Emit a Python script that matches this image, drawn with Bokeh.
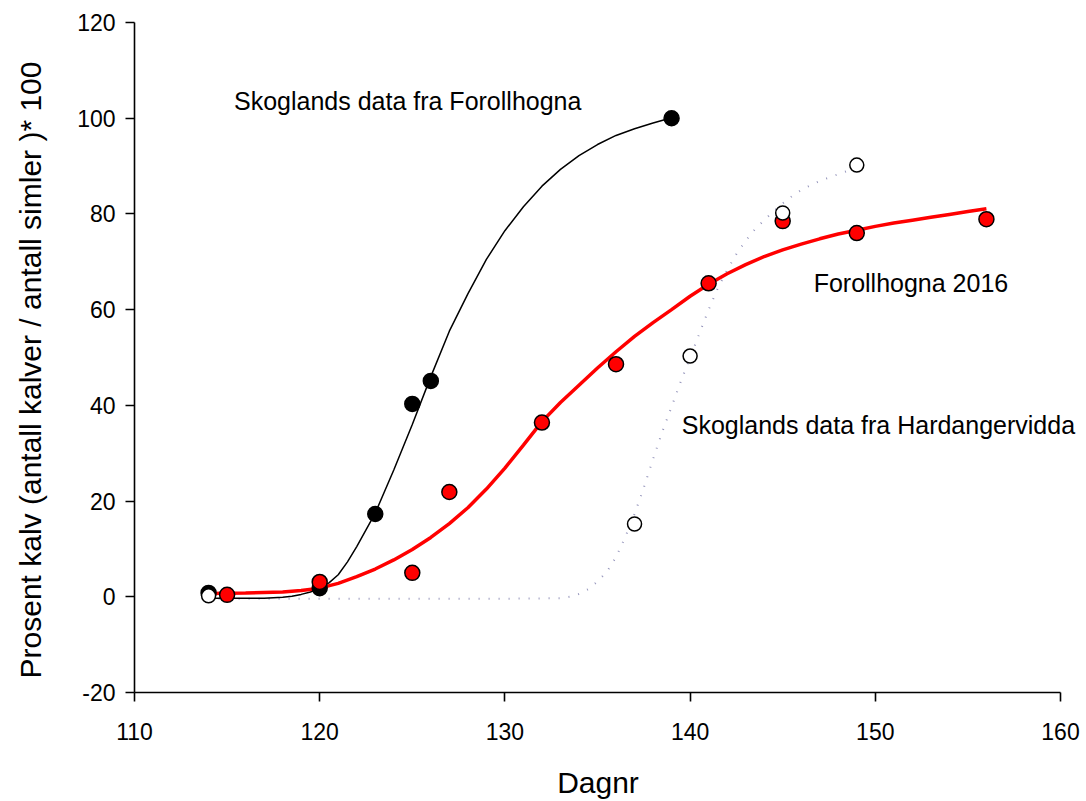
from bokeh.plotting import figure
from bokeh.models import Range1d, FixedTicker, Label
from bokeh.embed import file_html
from bokeh.resources import INLINE

# Observed points
forollhogna_old_x = [114, 120, 123, 125, 126, 139]
forollhogna_old_y = [0.8, 1.8, 17.3, 40.3, 45.1, 100.0]

forollhogna_2016_x = [115, 120, 125, 127, 132, 136, 141, 145, 149, 156]
forollhogna_2016_y = [0.4, 3.1, 5.0, 21.9, 36.4, 48.6, 65.5, 78.5, 76.0, 78.9]

hardangervidda_x = [114, 137, 140, 145, 149]
hardangervidda_y = [0.2, 15.2, 50.3, 80.2, 90.2]

# Fitted curves
curve_old_x = [114, 115, 116, 117, 118, 118.5, 119, 119.5, 120, 120.5, 121, 121.5,
               122, 123, 124, 125, 126, 127, 128, 129, 130, 131, 132, 133,
               134, 135, 136, 137, 138, 139]
curve_old_y = [-0.3, -0.3, -0.3, -0.3, -0.1, 0.1, 0.5, 1.0, 1.8, 2.9, 4.6, 7.3,
               10.5, 17.5, 26.5, 36.0, 46.0, 55.5, 63.3, 70.5, 76.5, 81.5, 85.8, 89.3,
               92.2, 94.5, 96.4, 97.8, 99.0, 100.1]

curve_2016_x = [114, 116, 118, 119, 120, 121, 122, 123, 124, 125, 126, 127, 128,
                129, 130, 131, 132, 133, 134, 135, 136, 137, 138, 139, 140, 141,
                142, 143, 144, 145, 146, 147, 148, 149, 150, 151, 152, 153, 154,
                155, 156]
curve_2016_y = [0.7, 0.8, 1.0, 1.3, 1.8, 2.8, 4.2, 5.8, 7.7, 9.9, 12.4, 15.3, 18.6,
                22.5, 26.9, 31.7, 36.6, 40.6, 44.2, 47.8, 51.2, 54.4, 57.3, 60.0, 62.8, 65.3,
                67.5, 69.4, 71.1, 72.5, 73.7, 74.8, 75.8, 76.6, 77.4, 78.1, 78.7, 79.3, 79.9,
                80.5, 81.1]

curve_hv_x = [114, 120, 126, 130, 133, 133.5, 134, 134.5, 135, 135.5, 136, 136.5,
              137, 137.5, 138, 138.5, 139, 139.5, 140, 140.5, 141, 141.5, 142,
              142.5, 143, 143.5, 144, 144.5, 145, 145.5, 146, 146.5, 147, 147.5,
              148, 148.5, 149]
curve_hv_y = [-0.4, -0.4, -0.4, -0.4, -0.3, 0.0, 0.6, 1.6, 3.2, 5.2, 8.3, 12.5,
              17.3, 22.8, 28.8, 34.5, 39.7, 45.0, 50.0, 55.0, 60.0, 64.5, 68.3,
              71.6, 74.4, 76.8, 78.7, 80.5, 82.2, 83.7, 85.0, 86.0, 86.9, 87.6,
              88.3, 89.0, 89.6]

x_ticks = [110, 120, 130, 140, 150, 160]
y_ticks = [-20, 0, 20, 40, 60, 80, 100, 120]
y_tick_labels = ["-20", "0", "20", "40", "60", "80", "100", "120"]

FONT = "Liberation Sans"
NB = "\u00a0"

# frame spans 134..1086 px; 110..160 maps to 134..1060, the rest is free room for text
p = figure(width=1086, height=801, output_backend="svg", toolbar_location=None,
           x_range=Range1d(110, 161.404), y_range=Range1d(-20, 120),
           min_border_left=134, min_border_right=0, min_border_top=22,
           min_border_bottom=108)
p.outline_line_color = None
p.grid.visible = False
p.background_fill_color = "white"
p.border_fill_color = "white"

for ax in (p.xaxis[0], p.yaxis[0]):
    ax.axis_line_color = "black"
    ax.axis_line_width = 1.6
    ax.major_tick_line_color = "black"
    ax.major_tick_line_width = 1.6
    ax.major_tick_out = 9
    ax.major_tick_in = 0
    ax.minor_tick_line_color = None
    ax.major_label_text_font = FONT
    ax.major_label_text_font_size = "23px"
    ax.major_label_text_color = "black"
    ax.axis_label_text_font = FONT
    ax.axis_label_text_font_size = "30px"
    ax.axis_label_text_font_style = "normal"
    ax.axis_label_text_color = "black"

p.xaxis.bounds = (110, 160)
p.xaxis.ticker = FixedTicker(ticks=x_ticks)
p.yaxis.ticker = FixedTicker(ticks=y_ticks)
p.yaxis.major_label_overrides = {t: s for t, s in zip(y_ticks, y_tick_labels)}
p.xaxis.major_label_standoff = 21
p.yaxis.major_label_standoff = 10
# trailing no-break spaces shift the visible titles to match the reference placement
p.xaxis.axis_label = "Dagnr" + NB * 3
p.xaxis.axis_label_standoff = 23
p.yaxis.axis_label = "Prosent kalv (antall kalver / antall simler )* 100" + NB * 3
p.yaxis.axis_label_standoff = 27

# Curves
p.line(curve_hv_x, curve_hv_y, line_color="#9696bc", line_width=2, line_dash="1 9")
p.line(curve_old_x, curve_old_y, line_color="black", line_width=1.5)
p.line(curve_2016_x, curve_2016_y, line_color="#ff0000", line_width=3.5)

# Points
p.scatter(forollhogna_old_x, forollhogna_old_y, size=15, fill_color="black",
          line_color="black", line_width=1.5)
p.scatter(forollhogna_2016_x, forollhogna_2016_y, size=15, fill_color="#ff0000",
          line_color="black", line_width=1.5)
p.scatter(hardangervidda_x, hardangervidda_y, size=14, fill_color="white",
          line_color="black", line_width=1.5)

# Annotations
for tx, ty, txt in [(115.37, 103.6, "Skoglands data fra Forollhogna"),
                    (146.67, 65.5, "Forollhogna 2016"),
                    (139.55, 36.0, "Skoglands data fra Hardangervidda")]:
    p.add_layout(Label(x=tx, y=ty, text=txt, text_font=FONT, text_font_size="25px",
                       text_color="black", text_baseline="alphabetic", text_align="left"))

open("out.html", "w").write(file_html(p, INLINE))
